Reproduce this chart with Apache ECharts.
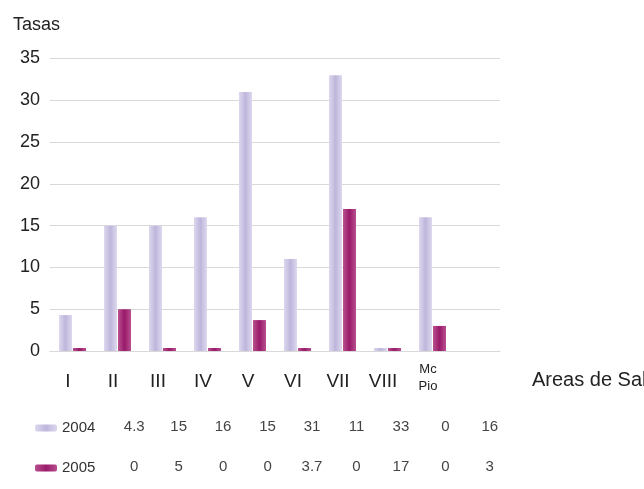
<!DOCTYPE html>
<html lang="es">
<head>
<meta charset="utf-8" />
<title>Tasas por area</title>
<script src="https://cdn.jsdelivr.net/npm/echarts@6/dist/echarts.min.js"></script>
<style>
  html, body { margin: 0; padding: 0; background: #fff; }
  #chart { width: 644px; height: 489px; }
</style>
</head>
<body>
<div id="chart"></div>
<script>
// datos
var areas = ['I', 'II', 'III', 'IV', 'V', 'VI', 'VII', 'VIII', 'Mc\nPio'];
var serie2004 = [4.3, 15, 15, 16, 31, 11, 33, 0, 16];
var serie2005 = [0, 5, 0, 0, 3.7, 0, 17, 0, 3];
// tabla de datos bajo el eje (tal como aparece)
var tabla2004 = ['4.3', '15', '16', '15', '31', '11', '33', '0', '16'];
var tabla2005 = ['0', '5', '0', '0', '3.7', '0', '17', '0', '3'];
var ticksY = [0, 5, 10, 15, 20, 25, 30, 35];

var font = 'Liberation Sans, Arial, sans-serif';

var chart = echarts.init(document.getElementById('chart'), null, {renderer: 'canvas'});

var lavanda = new echarts.graphic.LinearGradient(0, 0, 1, 0, [
    {offset: 0, color: '#ddd8ee'},
    {offset: 0.5, color: '#bfb6dc'},
    {offset: 1, color: '#ddd8ee'}
]);
var magenta = new echarts.graphic.LinearGradient(0, 0, 1, 0, [
    {offset: 0, color: '#b8508f'},
    {offset: 0.5, color: '#9a1a6a'},
    {offset: 1, color: '#b8508f'}
]);

var option = {
    backgroundColor: '#fff',
    animation: false,
    title: {
        text: 'Tasas',
        left: 8,
        top: 11,
        textStyle: {fontFamily: font, fontSize: 18, fontWeight: 'normal', color: '#222'}
    },
    legend: {
        data: ['2004', '2005'],
        orient: 'vertical',
        left: 30,
        top: 413,
        itemWidth: 22,
        itemHeight: 7,
        itemGap: 20,
        selectedMode: false,
        textStyle: {fontFamily: font, fontSize: 15, lineHeight: 20, color: '#333'}
    },
    grid: [
        {left: 50, right: 144, top: 58.5, bottom: 138, containLabel: false, outerBoundsMode: 'none'},
        {left: 112, width: 400, top: 427, height: 40, containLabel: false, outerBoundsMode: 'none'}
    ],
    xAxis: [
        {
            type: 'category',
            data: areas.concat(['']),
            name: 'Areas de Salud',
            nameLocation: 'end',
            nameGap: 32,
            nameTextStyle: {fontFamily: font, fontSize: 20, color: '#222', verticalAlign: 'top', padding: [19, 0, 0, 0]},
            axisLine: {show: true, lineStyle: {color: '#d9d9d9'}},
            axisTick: {show: false},
            axisLabel: {
                interval: 0,
                margin: 31,
                verticalAlign: 'middle',
                fontFamily: font,
                fontSize: 19,
                color: '#222',
                padding: [0, 9, 0, 0],
                formatter: function (v) {
                    return v.indexOf('\n') >= 0 ? '{s|' + v + '}' : v;
                },
                rich: {
                    s: {fontFamily: font, fontSize: 13, lineHeight: 17, color: '#222', padding: [0, 0, 8, 0]}
                }
            }
        },
        {
            type: 'category',
            gridIndex: 1,
            position: 'top',
            data: areas,
            axisLine: {show: false},
            axisTick: {show: false},
            axisLabel: {
                interval: 0, margin: 0, verticalAlign: 'middle',
                fontFamily: font, fontSize: 15, color: '#444',
                formatter: function (v, i) { return tabla2004[i]; }
            }
        },
        {
            type: 'category',
            gridIndex: 1,
            position: 'bottom',
            data: areas,
            axisLine: {show: false},
            axisTick: {show: false},
            axisLabel: {
                interval: 0, margin: 0, verticalAlign: 'middle',
                fontFamily: font, fontSize: 15, color: '#444',
                formatter: function (v, i) { return tabla2005[i]; }
            }
        }
    ],
    yAxis: [
        {
            type: 'value',
            min: ticksY[0],
            max: ticksY[ticksY.length - 1],
            interval: 5,
            axisLine: {show: false},
            axisTick: {show: false},
            axisLabel: {margin: 10, fontFamily: font, fontSize: 18, color: '#222'},
            splitLine: {lineStyle: {color: '#d9d9d9', width: 1}}
        },
        {type: 'value', gridIndex: 1, show: false}
    ],
    series: [
        {
            name: '2004',
            type: 'bar',
            data: serie2004,
            barWidth: 13,
            barGap: '8%',
            barMinHeight: 3,
            itemStyle: {color: lavanda}
        },
        {
            name: '2005',
            type: 'bar',
            data: serie2005,
            barWidth: 13,
            barMinHeight: 3,
            itemStyle: {color: magenta}
        }
    ]
};

chart.setOption(option);
</script>
</body>
</html>
